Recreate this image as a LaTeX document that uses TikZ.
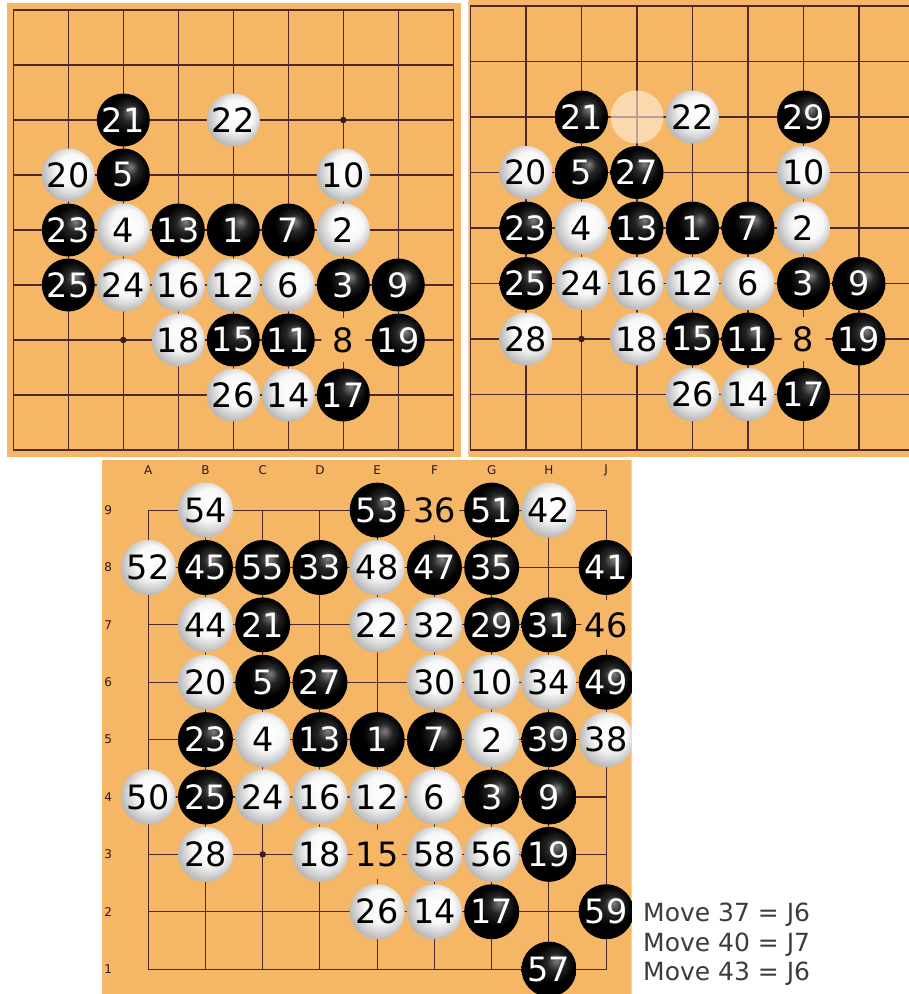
\documentclass[tikz,border=0pt]{standalone}
\usepackage{fontspec}
\usepackage{tikz}
\newfontfamily\stonefont{DejaVu Sans}
\definecolor{boardwood}{RGB}{245,183,102}
\definecolor{gridline}{RGB}{78,40,44}
\definecolor{movegray}{RGB}{60,60,60}
\pgfdeclareradialshading{blackstone}{\pgfpoint{7bp}{8bp}}{color(0bp)=(black!50); color(8bp)=(black!85); color(18bp)=(black); color(50bp)=(black)}
\pgfdeclareradialshading{whitestone}{\pgfpoint{5bp}{7bp}}{color(0bp)=(white); color(15bp)=(white!97!black); color(28bp)=(black!28); color(50bp)=(black!28)}
\tikzset{
  gridlines/.style={draw=gridline,line width=1.05pt},
  stonenum/.style={font={\stonefont\fontsize{33.5}{34}\selectfont}},
  bstone/.style={circle,inner sep=0pt,minimum size=53pt,shade,shading=blackstone,text=white,stonenum},
  wstone/.style={circle,inner sep=0pt,minimum size=53pt,shade,shading=whitestone,text=black,stonenum},
  ghost/.style={circle,inner sep=0pt,minimum size=53pt,fill=orange!12!white,opacity=0.6},
  freelabel/.style={circle,inner sep=0pt,minimum size=44pt,fill=boardwood,text=black,stonenum},
  starpt/.style={circle,fill=gridline!70!black,inner sep=0pt,minimum size=6.5pt},
  coordlabel/.style={font={\stonefont\fontsize{12}{12}\selectfont},text=gridline!60!black},
  movetext/.style={anchor=base west,inner sep=0pt,font={\stonefont\fontsize{25}{29}\selectfont},text=movegray}
}
\begin{document}
\begin{tikzpicture}[x=1pt,y=-1pt]
  \useasboundingbox[fill=white] (0,0) rectangle (909,994);

  % board before move 27
  \fill[boardwood] (7.3,3.3) rectangle (461,457.3);
  \begin{scope}[shift={(13.3,10)},x=55pt,y=-55pt]
    \draw[gridlines] (0,0) rectangle (8,8);
    \foreach \i in {1,...,7} {
      \draw[gridlines] (\i,0) -- (\i,8);
      \draw[gridlines] (0,\i) -- (8,\i);
    }
    \foreach \c/\r in {2/2,6/2,4/4,2/6,6/6}
      \node[starpt] (tl-star-\c-\r) at (\c,\r) {};
    \node[freelabel] (tl8) at (6,6) {8};
    \foreach \c/\r/\n in {2/2/21,2/3/5,1/4/23,3/4/13,4/4/1,5/4/7,1/5/25,6/5/3,7/5/9,4/6/15,5/6/11,7/6/19,6/7/17}
      \node[bstone] (tl\n) at (\c,\r) {\n};
    \foreach \c/\r/\n in {4/2/22,1/3/20,6/3/10,2/4/4,6/4/2,2/5/24,3/5/16,4/5/12,5/5/6,3/6/18,4/7/26,5/7/14}
      \node[wstone] (tl\n) at (\c,\r) {\n};
  \end{scope}

  % board after move 29
  \begin{scope}
    \clip (468.3,0) rectangle (909,457.3);
    \fill[boardwood] (468.3,0) rectangle (909,457.3);
    \begin{scope}[shift={(470.5,6)},x=55.5pt,y=-55.5pt]
      \draw[gridlines] (0,0) rectangle (8,8);
      \foreach \i in {1,...,7} {
        \draw[gridlines] (\i,0) -- (\i,8);
        \draw[gridlines] (0,\i) -- (8,\i);
      }
      \foreach \c/\r in {2/2,6/2,4/4,2/6,6/6}
        \node[starpt] (tr-star-\c-\r) at (\c,\r) {};
      \node[freelabel] (tr8) at (6,6) {8};
      \node[ghost] (tr-ko) at (3,2) {};
      \foreach \c/\r/\n in {2/2/21,6/2/29,2/3/5,3/3/27,1/4/23,3/4/13,4/4/1,5/4/7,1/5/25,6/5/3,7/5/9,4/6/15,5/6/11,7/6/19,6/7/17}
        \node[bstone] (tr\n) at (\c,\r) {\n};
      \foreach \c/\r/\n in {4/2/22,1/3/20,6/3/10,2/4/4,6/4/2,2/5/24,3/5/16,4/5/12,5/5/6,1/6/28,3/6/18,4/7/26,5/7/14}
        \node[wstone] (tr\n) at (\c,\r) {\n};
    \end{scope}
  \end{scope}

  % whole game, moves 1-59
  \begin{scope}
    \clip (101.7,460) rectangle (631.7,994);
    \fill[boardwood] (101.7,460) rectangle (631.7,994);
    \begin{scope}[shift={(148.2,510.1)},x=57.25pt,y=-57.375pt,
        bstone/.append style={minimum size=55pt},
        wstone/.append style={minimum size=55pt}]
      \draw[gridlines] (0,0) rectangle (8,8);
      \foreach \i in {1,...,7} {
        \draw[gridlines] (\i,0) -- (\i,8);
        \draw[gridlines] (0,\i) -- (8,\i);
      }
      \foreach \l [count=\i from 0] in {A,B,C,D,E,F,G,H,J}
        \node[coordlabel] (col-\l) at (\i,-0.69) {\l};
      \foreach \n [evaluate=\n as \r using 9-\n] in {1,...,9}
        \node[coordlabel] (row-\n) at (-0.70,\r) {\n};
      \foreach \c/\r in {2/2,6/2,4/4,2/6,6/6}
        \node[starpt] (bt-star-\c-\r) at (\c,\r) {};
      \foreach \c/\r/\n in {5/0/36,8/2/46,4/6/15}
        \node[freelabel] (bt\n) at (\c,\r) {\n};
      \foreach \c/\r/\n in {4/0/53,6/0/51,1/1/45,2/1/55,3/1/33,5/1/47,6/1/35,8/1/41,2/2/21,6/2/29,7/2/31,2/3/5,3/3/27,8/3/49,1/4/23,3/4/13,4/4/1,5/4/7,7/4/39,1/5/25,6/5/3,7/5/9,7/6/19,6/7/17,8/7/59,7/8/57}
        \node[bstone] (bt\n) at (\c,\r) {\n};
      \foreach \c/\r/\n in {1/0/54,7/0/42,0/1/52,4/1/48,1/2/44,4/2/22,5/2/32,1/3/20,5/3/30,6/3/10,7/3/34,2/4/4,6/4/2,8/4/38,0/5/50,2/5/24,3/5/16,4/5/12,5/5/6,1/6/28,3/6/18,5/6/58,6/6/56,4/7/26,5/7/14}
        \node[wstone] (bt\n) at (\c,\r) {\n};
    \end{scope}
  \end{scope}

  % moves played on captured points
  \node[movetext] (move37) at (643,921.7) {Move 37 = J6};
  \node[movetext] (move40) at (643,951.7) {Move 40 = J7};
  \node[movetext] (move43) at (643,980) {Move 43 = J6};
\end{tikzpicture}
\end{document}
